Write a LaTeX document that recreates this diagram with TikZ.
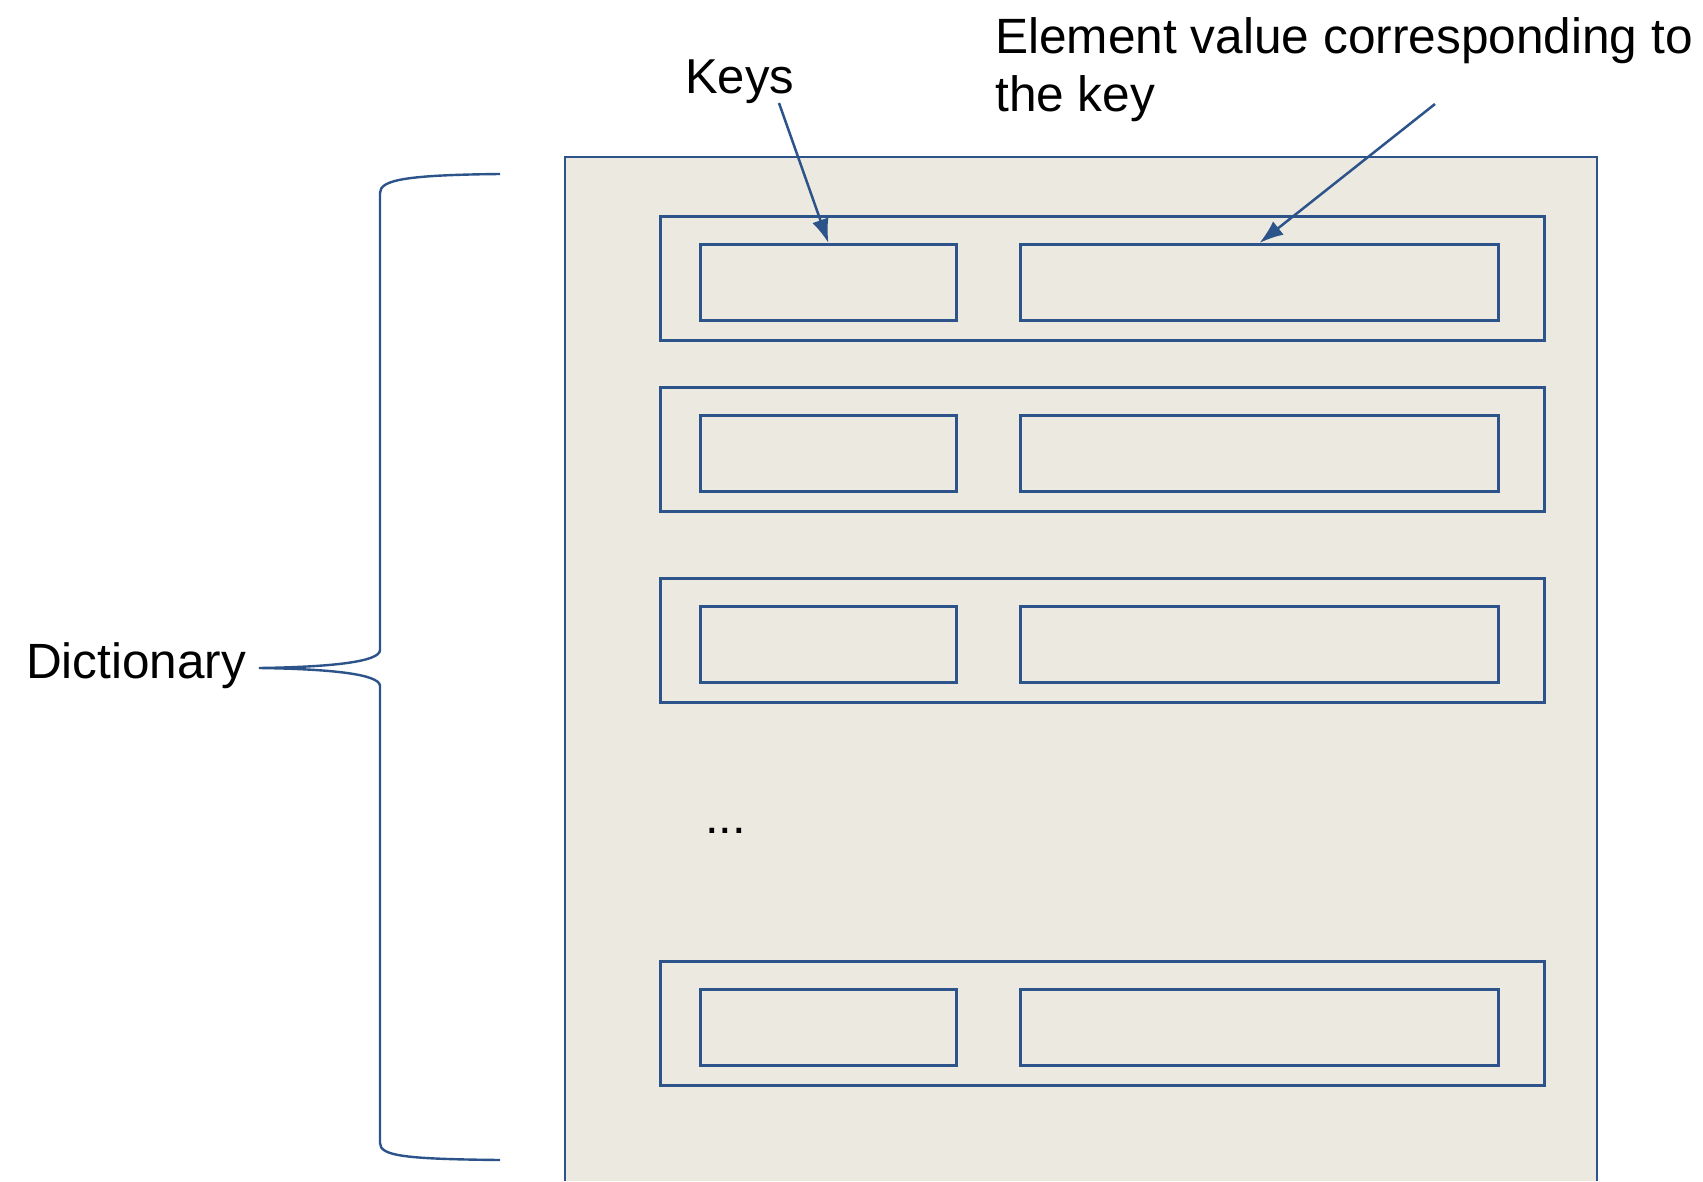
\documentclass[tikz,border=0pt]{standalone}
\usepackage{fontspec}
\setmainfont{Liberation Sans}
\usetikzlibrary{arrows.meta}
\definecolor{frameblue}{RGB}{44,84,138}
\definecolor{panel}{RGB}{236,233,224}
\begin{document}
\begin{tikzpicture}[x=1pt,y=-1pt,
  label/.style={anchor=base west,inner sep=0pt,font=\fontsize{49}{58}\selectfont},
  rowbox/.style={draw=frameblue,line width=2.9pt,anchor=north west,inner sep=0pt,
    minimum width=884pt,minimum height=124pt},
  cellbox/.style={draw=frameblue,line width=2.9pt,anchor=north west,inner sep=0pt,
    minimum height=76pt},
  pointer/.style={draw=frameblue,line width=2.5pt,-{Latex[length=24pt,width=17pt]}},
  bracestroke/.style={draw=frameblue,line width=2.4pt}]
\useasboundingbox (0,0) rectangle (1703,1181);
\fill[white] (0,0) rectangle (1703,1181);

% dictionary panel, running off the bottom edge
\fill[panel] (565,157) rectangle (1597,1181);
\draw[frameblue,line width=2.4pt] (565,1181) -- (565,157) -- (1597,157) -- (1597,1181);

% key/value entries
\foreach \r/\t in {1/215,2/386,3/577,4/960}{
  \node[rowbox] (row\r) at (659,\t) {};
  \node[cellbox,minimum width=256pt] (key\r) at (699,\t+28) {};
  \node[cellbox,minimum width=478pt] (val\r) at (1019,\t+28) {};
}
\node[label] (more) at (705,833) {...};

% labels
\node[label,font=\fontsize{49.5}{58}\selectfont] (dict) at (26,678) {Dictionary};
\node[label] (keys) at (685,93) {Keys};
\node[label,font=\fontsize{49.6}{58}\selectfont] (elem1) at (995,53) {Element value corresponding to};
\node[label,font=\fontsize{49.6}{58}\selectfont] (elem2) at (995,111) {the key};

% pointers into the first entry
\coordinate (keytail) at (779,103);
\coordinate (valtail) at (1435,104);
\draw[pointer] (keytail) -- (key1.north);
\draw[pointer] (valtail) -- (val1.north);

% curly brace grouping the whole dictionary
\coordinate (bracetip) at (259,668);
\path[bracestroke] (500,174) .. controls (405,175) and (380,180) .. (380,193)
  -- (380,650) .. controls (380,662) and (330,667) .. (bracetip)
  .. controls (330,669) and (380,674) .. (380,686)
  -- (380,1143) .. controls (380,1156) and (405,1159) .. (500,1160);
\end{tikzpicture}
\end{document}
